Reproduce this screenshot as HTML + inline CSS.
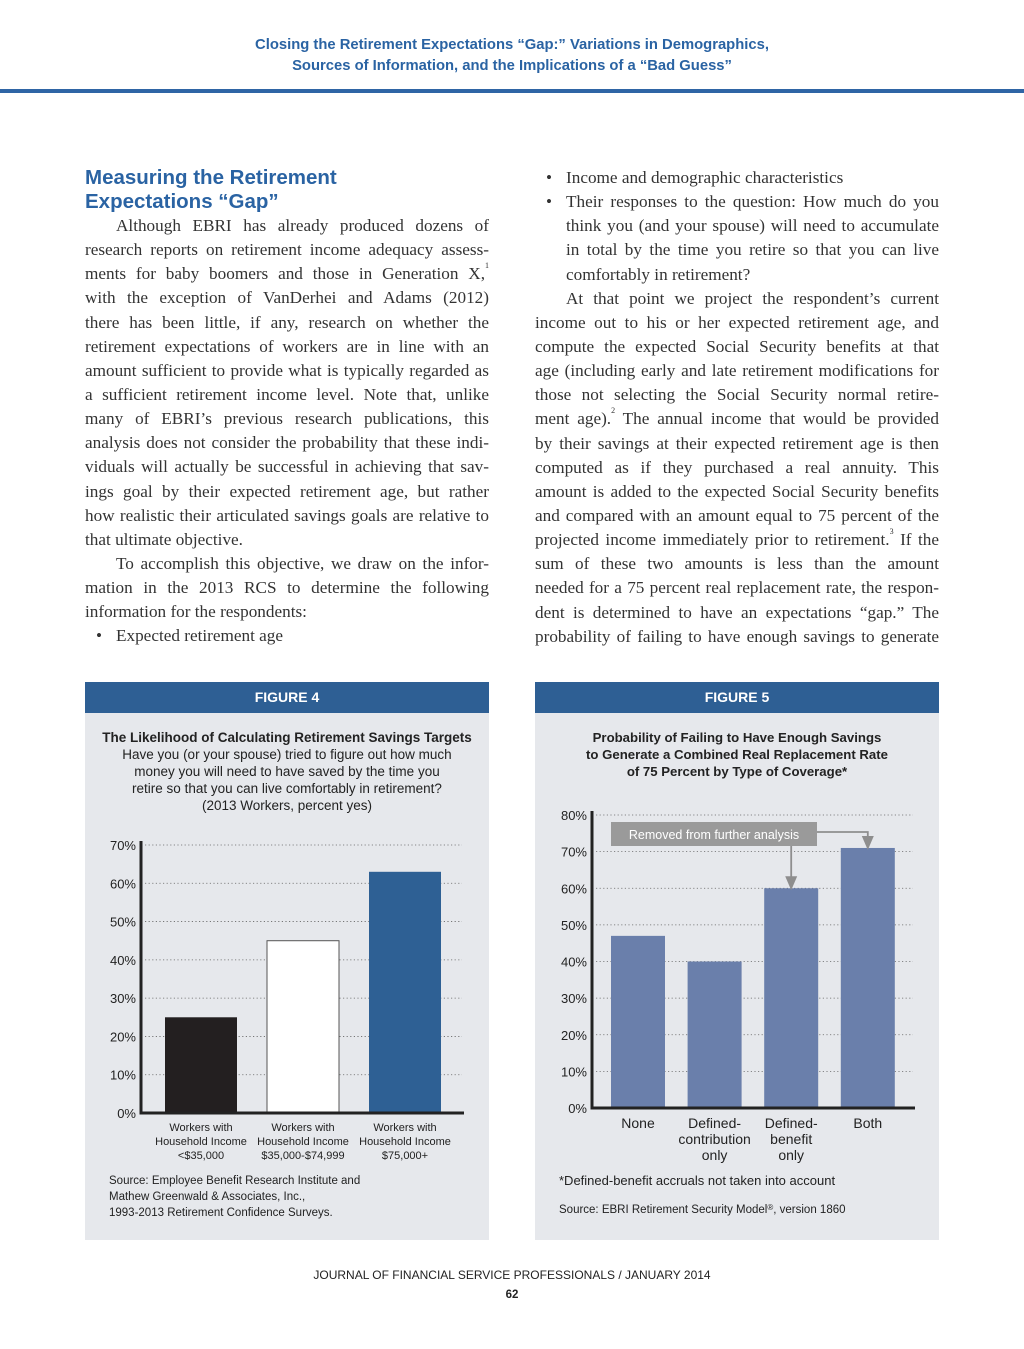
<!DOCTYPE html>
<html><head><meta charset="utf-8">
<style>
body{margin:0;width:1024px;height:1349px;background:#fff;position:relative;overflow:hidden;font-family:"Liberation Sans",sans-serif;}
.abs{position:absolute;}
.hdr{left:0;width:1024px;text-align:center;color:#2a63a3;font-weight:bold;font-size:14.8px;}
.col{position:absolute;width:404px;font-family:"Liberation Serif",serif;font-size:17.2px;color:#333;}
.ln{height:24.15px;line-height:24.15px;text-align:justify;text-align-last:justify;overflow:hidden;white-space:nowrap;}
.ln.l{text-align-last:left;}
.ind{padding-left:31px;}
.bul{padding-left:31px;position:relative;}
.bul::before{content:"•";position:absolute;left:11px;}
h2{margin:0;color:#2a63a3;font-size:20.5px;line-height:24px;font-weight:bold;font-family:"Liberation Sans",sans-serif;}
.panel{position:absolute;top:682px;width:404px;height:558px;background:#e6e8ec;}
.phead{height:31px;line-height:31px;background:#2e5f94;color:#fff;text-align:center;font-weight:bold;font-size:14px;}
sup{font-size:8px;vertical-align:top;line-height:1;}
</style></head><body>
<div class="abs hdr" style="top:37px">Closing the Retirement Expectations “Gap:” Variations in Demographics,<br><span style="line-height:26px">Sources of Information, and the Implications of a “Bad Guess”</span></div>
<div class="abs" style="top:89px;left:0;width:1024px;height:4px;background:#2f65a5"></div>

<div class="col" style="left:85px;top:166px">
<h2>Measuring the Retirement<br>Expectations “Gap”</h2>
<div class="ln ind">Although EBRI has already produced dozens of</div>
<div class="ln">research reports on retirement income adequacy assess-</div>
<div class="ln">ments for baby boomers and those in Generation X,<sup>1</sup></div>
<div class="ln">with the exception of VanDerhei and Adams (2012)</div>
<div class="ln">there has been little, if any, research on whether the</div>
<div class="ln">retirement expectations of workers are in line with an</div>
<div class="ln">amount sufficient to provide what is typically regarded as</div>
<div class="ln">a sufficient retirement income level. Note that, unlike</div>
<div class="ln">many of EBRI’s previous research publications, this</div>
<div class="ln">analysis does not consider the probability that these indi-</div>
<div class="ln">viduals will actually be successful in achieving that sav-</div>
<div class="ln">ings goal by their expected retirement age, but rather</div>
<div class="ln">how realistic their articulated savings goals are relative to</div>
<div class="ln l">that ultimate objective.</div>
<div class="ln ind">To accomplish this objective, we draw on the infor-</div>
<div class="ln">mation in the 2013 RCS to determine the following</div>
<div class="ln l">information for the respondents:</div>
<div class="ln l bul">Expected retirement age</div>
</div>

<div class="col" style="left:535px;top:166px">
<div class="ln l bul">Income and demographic characteristics</div>
<div class="ln bul">Their responses to the question: How much do you</div>
<div class="ln ind">think you (and your spouse) will need to accumulate</div>
<div class="ln ind">in total by the time you retire so that you can live</div>
<div class="ln l ind">comfortably in retirement?</div>
<div class="ln ind">At that point we project the respondent’s current</div>
<div class="ln">income out to his or her expected retirement age, and</div>
<div class="ln">compute the expected Social Security benefits at that</div>
<div class="ln">age (including early and late retirement modifications for</div>
<div class="ln">those not selecting the Social Security normal retire-</div>
<div class="ln">ment age).<sup>2</sup> The annual income that would be provided</div>
<div class="ln">by their savings at their expected retirement age is then</div>
<div class="ln">computed as if they purchased a real annuity. This</div>
<div class="ln">amount is added to the expected Social Security benefits</div>
<div class="ln">and compared with an amount equal to 75 percent of the</div>
<div class="ln">projected income immediately prior to retirement.<sup>3</sup> If the</div>
<div class="ln">sum of these two amounts is less than the amount</div>
<div class="ln">needed for a 75 percent real replacement rate, the respon-</div>
<div class="ln">dent is determined to have an expectations “gap.” The</div>
<div class="ln">probability of failing to have enough savings to generate</div>
</div>

<div class="panel" style="left:85px">
<div class="phead">FIGURE 4</div>
<div style="text-align:center;font-size:13.5px;line-height:17px;color:#222;margin-top:16px"><b>The Likelihood of Calculating Retirement Savings Targets</b><br>Have you (or your spouse) tried to figure out how much<br>money you will need to have saved by the time you<br>retire so that you can live comfortably in retirement?<br>(2013 Workers, percent yes)</div>
<svg id="c4" class="abs" style="left:0;top:0" width="404" height="558"></svg>
<div class="abs" style="left:24px;top:491px;font-size:11.5px;line-height:16px;color:#222">Source: Employee Benefit Research Institute and<br>Mathew Greenwald &amp; Associates, Inc.,<br>1993-2013 Retirement Confidence Surveys.</div>
</div>

<div class="panel" style="left:535px">
<div class="phead">FIGURE 5</div>
<div style="text-align:center;font-size:13.2px;line-height:17px;color:#222;margin-top:16px;font-weight:bold">Probability of Failing to Have Enough Savings<br>to Generate a Combined Real Replacement Rate<br>of 75 Percent by Type of Coverage*</div>
<svg id="c5" class="abs" style="left:0;top:0" width="404" height="558"></svg>
<div class="abs" style="left:24px;top:491px;font-size:13px;color:#222">*Defined-benefit accruals not taken into account</div>
<div class="abs" style="left:24px;top:522px;font-size:11.5px;color:#222">Source: EBRI Retirement Security Model<sup>®</sup>, version 1860</div>
</div>

<div class="abs" style="top:1268px;left:0;width:1024px;text-align:center;font-size:12px;color:#222">JOURNAL OF FINANCIAL SERVICE PROFESSIONALS / JANUARY 2014</div>
<div class="abs" style="top:1289px;left:0;width:1024px;text-align:center;font-size:11.5px;font-weight:bold;color:#222">62</div>

<script>
const NS="http://www.w3.org/2000/svg";
const f4Categories=[["Workers with","Household Income","<$35,000"],["Workers with","Household Income","$35,000-$74,999"],["Workers with","Household Income","$75,000+"]];
const f4Values=[25,45,63];
const f4Ticks=[0,10,20,30,40,50,60,70];
const f4Colors=["#231f20","#ffffff","#2e6094"];
const f5Categories=[["None"],["Defined-","contribution","only"],["Defined-","benefit","only"],["Both"]];
const f5Values=[47,40,60,71];
const f5Ticks=[0,10,20,30,40,50,60,70,80];
const f5Note="Removed from further analysis";

function mk(svg,tag,attrs,text){const e=document.createElementNS(NS,tag);for(const k in attrs)e.setAttribute(k,attrs[k]);if(text!==undefined)e.textContent=text;svg.appendChild(e);return e;}

function chart(id,cats,vals,ticks,o){
  const svg=document.getElementById(id);
  const y=v=>o.y0-(v-ticks[0])/(ticks[ticks.length-1]-ticks[0])*(o.y0-o.yTop);
  ticks.forEach(t=>{
    if(t>0){const g=mk(svg,'line',{x1:o.ax+4,x2:o.right,y1:y(t),y2:y(t),stroke:'#666','stroke-width':0.8,'stroke-dasharray':'1.2 2.4'});
    
    }
    const l=mk(svg,'text',{x:o.ax-5,y:y(t)+5,'text-anchor':'end','font-size':13,fill:'#222'},t+'%');
    
    
  });
  const step=o.step;
  vals.forEach((v,i)=>{
    const x=o.x0+i*step;
    const r=mk(svg,'rect',{x:x,y:y(v),width:o.bw,height:o.y0-y(v),fill:o.colors?o.colors[i]:'#6a7fab',stroke:o.colors&&i==1?'#555':'none','stroke-width':1});
    
    
    cats[i].forEach((s,j)=>{
      const t=mk(svg,'text',{x:x+o.bw/2,y:o.y0+o.lab0+j*o.labH,'text-anchor':'middle','font-size':o.labF,fill:'#222'},s);
      
      
    });
  });
  const ax=mk(svg,'path',{d:`M${o.ax} ${y(ticks[ticks.length-1])-4} V${o.y0} H${o.right+2}`,stroke:'#222','stroke-width':3,fill:'none'});
  
  
  return {svg,y};
}
chart('c4',f4Categories,f4Values,f4Ticks,{y0:431,yTop:163,ax:56,right:377,x0:80,step:102,bw:72,colors:f4Colors,lab0:18,labH:14,labF:11});
const c5=chart('c5',f5Categories,f5Values,f5Ticks,{y0:426,yTop:133,ax:57,right:378,x0:76,step:76.6,bw:54,lab0:20,labH:16,labF:14});
const bx=76,bw=206,by=140,bh=24;
const xDB=76+2*76.6+27, xBoth=76+3*76.6+27;
const arr=mk(c5.svg,'path',{d:`M${bx+bw} ${by+10} H${xBoth} V${c5.y(f5Values[3])-2} M${xDB} ${by+bh} V${c5.y(f5Values[2])-2}`,stroke:'#8e8e8e','stroke-width':1.8,fill:'none'});


[xDB,xBoth].forEach((x,i)=>{const idx=i==0?2:3;const yy=c5.y(f5Values[idx]);
 const p=mk(c5.svg,'path',{d:`M${x-6} ${yy-12} L${x+6} ${yy-12} L${x} ${yy+2} Z`,fill:'#8e8e8e'});
 
 });
const box=mk(c5.svg,'rect',{x:bx,y:by,width:bw,height:bh,fill:'#9a9a9a'});


const bt=mk(c5.svg,'text',{x:bx+bw/2,y:by+17,'text-anchor':'middle','font-size':12.5,fill:'#fff'},f5Note);


</script>
</body></html>
